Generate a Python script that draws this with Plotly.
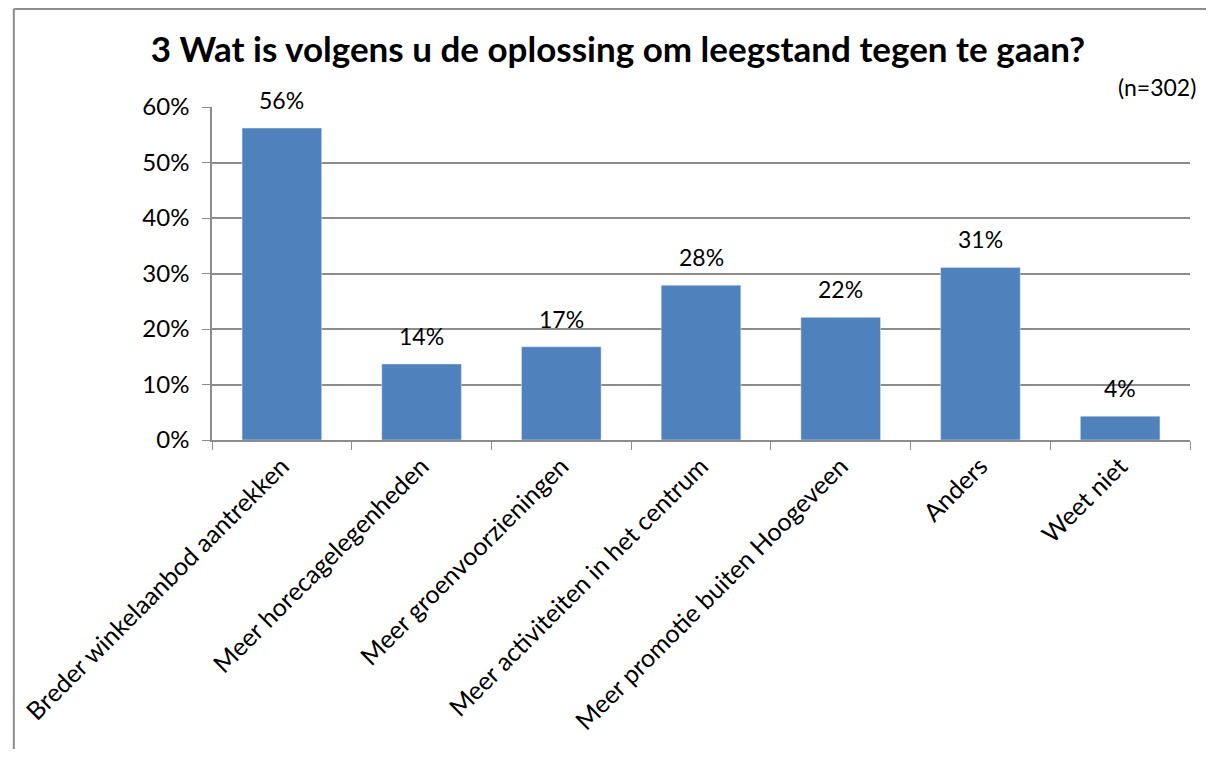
import plotly.graph_objects as go

categories = [
    "Breder winkelaanbod aantrekken",
    "Meer horecagelegenheden",
    "Meer groenvoorzieningen",
    "Meer activiteiten in het centrum",
    "Meer promotie buiten Hoogeveen",
    "Anders",
    "Weet niet",
]
values = [0.562, 0.137, 0.168, 0.279, 0.221, 0.311, 0.043]
labels = ["56%", "14%", "17%", "28%", "22%", "31%", "4%"]

FONT = "Lato, 'Open Sans', sans-serif"
GRID = "#8c8c8c"

fig = go.Figure()
fig.add_trace(
    go.Bar(
        x=categories,
        y=values,
        marker_color="#4F81BD",
        cliponaxis=False,
        width=0.57,
    )
)

# value labels above the bars
for cat, val, lab in zip(categories, values, labels):
    fig.add_annotation(
        x=cat,
        y=val,
        text=lab,
        xref="x",
        yref="y",
        yanchor="bottom",
        yshift=12,
        showarrow=False,
        font=dict(size=23, family=FONT, color="black"),
    )

# page body has an 8px margin, so the figure is sized to fit inside it
W, H = 1198, 741
ml, mr, mt, mb = 200, 16, 99, 309
fig.update_layout(
    width=W,
    height=H,
    margin=dict(l=ml, r=mr, t=mt, b=mb),
    paper_bgcolor="white",
    plot_bgcolor="white",
    showlegend=False,
    font=dict(family=FONT, size=23, color="black"),
    title=dict(
        text="<b>3 Wat is volgens u de oplossing om leegstand tegen te gaan?</b>",
        x=610 / W,
        xanchor="center",
        y=1 - 42 / H,
        yanchor="middle",
        font=dict(size=35, family=FONT, color="black"),
    ),
    xaxis=dict(
        tickangle=-45,
        tickson="boundaries",
        ticks="outside",
        ticklen=8,
        tickcolor=GRID,
        showline=True,
        linecolor=GRID,
        linewidth=1.5,
        showgrid=False,
        tickfont=dict(size=25, family=FONT),
    ),
    yaxis=dict(
        range=[0, 0.6],
        dtick=0.1,
        tickformat=".0%",
        ticks="outside",
        ticklen=8,
        tickcolor=GRID,
        showline=True,
        linecolor=GRID,
        linewidth=1.5,
        showgrid=True,
        gridcolor=GRID,
        gridwidth=1.5,
        zeroline=False,
        ticklabelstandoff=8,
        tickfont=dict(size=24, family=FONT),
    ),
)

pw, ph = W - ml - mr, H - mt - mb

fig.add_annotation(
    text="(n=302)",
    xref="paper",
    yref="paper",
    x=1 + 8 / pw,
    y=1 + 20 / ph,
    xanchor="right",
    yanchor="middle",
    showarrow=False,
    font=dict(size=23, family=FONT, color="black"),
)

# outer chart frame: only the left and top edges fall inside the crop
fx = (1 - ml) / pw
fy = 1 + (mt - 1) / ph
fig.add_shape(
    type="line", xref="paper", yref="paper",
    x0=fx, x1=fx, y0=-(mb + 5) / ph, y1=fy,
    line=dict(color="#8c8c8c", width=2), layer="below",
)
fig.add_shape(
    type="line", xref="paper", yref="paper",
    x0=fx, x1=(W + 5 - ml) / pw, y0=fy, y1=fy,
    line=dict(color="#8c8c8c", width=2), layer="below",
)

fig.write_html("out.html", config={"displayModeBar": False})
